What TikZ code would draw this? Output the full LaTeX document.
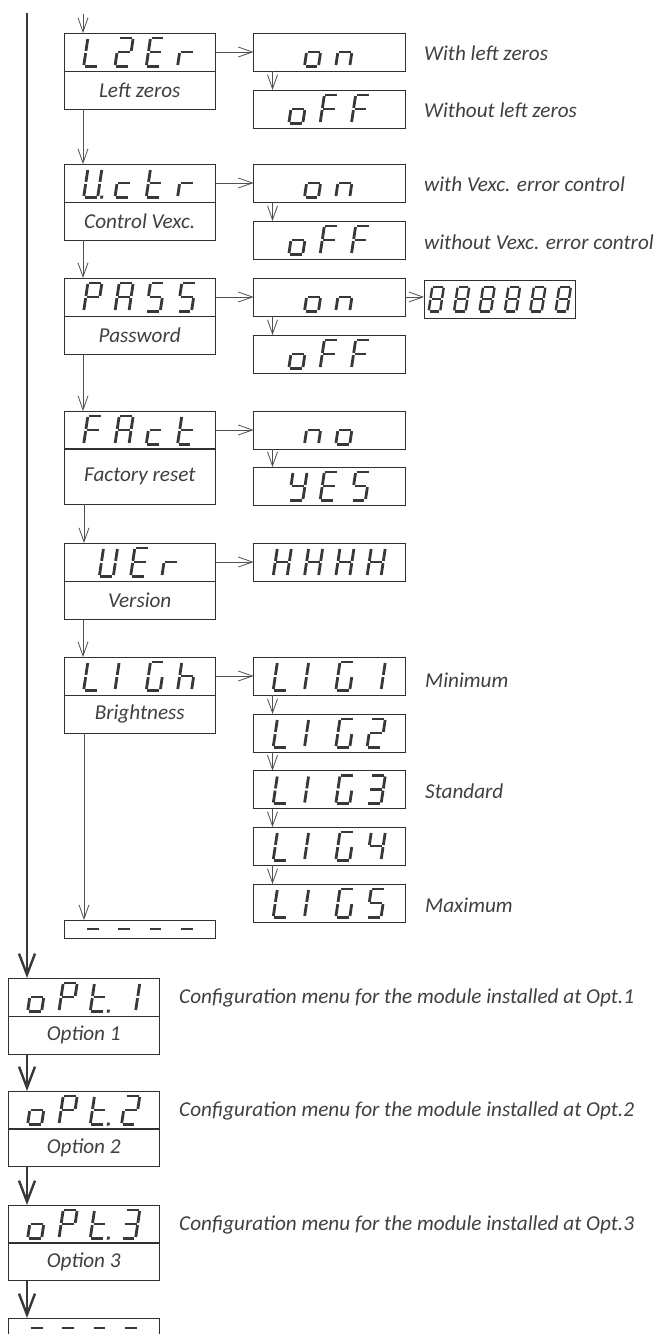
\documentclass[tikz,border=0pt]{standalone}
\usepackage{fontspec}
\setmainfont{Carlito}
\usetikzlibrary{arrows.meta}
\definecolor{segc}{HTML}{383838}
\definecolor{txtc}{HTML}{404040}
\definecolor{linec}{HTML}{303030}
\definecolor{arrc}{HTML}{505050}
\makeatletter
\def\segW{14}\def\segH{28.2}\def\segG{1.1}\def\segS{0.15}\def\segP{31.3}\def\segT{2.8}
\@namedef{seg@a}{\draw[segline] (\segG,\segH) -- (\segW-\segG,\segH);}
\@namedef{seg@b}{\draw[segline] (\segW,\segH-\segG) -- (\segW,\segH/2+\segG);}
\@namedef{seg@c}{\draw[segline] (\segW,\segH/2-\segG) -- (\segW,\segG);}
\@namedef{seg@d}{\draw[segline] (\segG,0) -- (\segW-\segG,0);}
\@namedef{seg@e}{\draw[segline] (0,\segG) -- (0,\segH/2-\segG);}
\@namedef{seg@f}{\draw[segline] (0,\segH/2+\segG) -- (0,\segH-\segG);}
\@namedef{seg@g}{\draw[segline] (\segG,\segH/2) -- (\segW-\segG,\segH/2);}
\@namedef{ch@L}{d,e,f}
\@namedef{ch@2}{a,b,g,e,d}
\@namedef{ch@E}{a,f,g,e,d}
\@namedef{ch@r}{e,g}
\@namedef{ch@o}{c,d,e,g}
\@namedef{ch@n}{c,e,g}
\@namedef{ch@F}{a,f,g,e}
\@namedef{ch@U}{b,c,d,e,f}
\@namedef{ch@c}{d,e,g}
\@namedef{ch@t}{d,e,f,g}
\@namedef{ch@P}{a,b,e,f,g}
\@namedef{ch@A}{a,b,c,e,f,g}
\@namedef{ch@5}{a,c,d,f,g}
\@namedef{ch@8}{a,b,c,d,e,f,g}
\@namedef{ch@Y}{b,c,d,f,g}
\@namedef{ch@H}{b,c,e,f,g}
\@namedef{ch@I}{e,f}
\@namedef{ch@G}{a,c,d,e,f}
\@namedef{ch@h}{c,e,f,g}
\@namedef{ch@1}{b,c}
\@namedef{ch@3}{a,b,c,d,g}
\@namedef{ch@4}{b,c,f,g}
\@namedef{ch@-}{g}
\newcommand\dispstr[2]{%
  \gdef\ds@n{0}%
  \foreach \chr/\dpt in {#2}{\xdef\ds@n{\the\numexpr\ds@n+1\relax}}%
  \pgfmathsetmacro\ds@start{-((\ds@n-1)*\segP+\segW+\segS*\segH)/2}%
  \begin{scope}[shift={(#1.center)}]
  \foreach \chr/\dpt [count=\i from 0] in {#2}{%
    \begin{scope}[shift={(\ds@start+\i*\segP,-\segH/2)},xslant=\segS]
      \edef\ds@list{\csname ch@\chr\endcsname}%
      \foreach \s in \ds@list {\csname seg@\s\endcsname}%
      \ifnum\dpt=1 \fill[segc] (\segW+2.6,-\segT/2) rectangle ++(\segT,\segT);\fi
    \end{scope}%
  }%
  \end{scope}%
}
\makeatother
\tikzset{
  segline/.style={draw=segc, line width=\segT pt},
  box/.style={draw=linec, line width=0.9pt, minimum width=151.5pt, minimum height=38pt,
    inner sep=0pt, outer sep=0pt, anchor=north west},
  lbl/.style={box, text=txtc, font=\fontsize{21.2}{24}\selectfont\itshape},
  desc/.style={anchor=west, inner sep=0pt, text=txtc, font=\fontsize{21.2}{24}\selectfont\itshape},
  arr/.style={draw=arrc, line width=0.8pt, -{Straight Barb[length=14pt,width=10pt]}},
  bigarr/.style={draw=segc, line width=2.8pt, -{Straight Barb[length=21pt,width=16pt,line width=2.4pt]}},
}
\begin{document}
\begin{tikzpicture}[x=1pt,y=1pt]
\useasboundingbox (0,0) rectangle (658,-1334);
\fill[white] (0,0) rectangle (658,-1334);
% main column
\node[box] (l2er) at (64,-33) {};
\node[lbl] (l2erL) at (64,-71) {Left zeros};
\node[box] (uctr) at (64,-164) {};
\node[lbl] (uctrL) at (64,-202) {Control Vexc.};
\node[box] (pass) at (64,-278) {};
\node[lbl] (passL) at (64,-316) {Password};
\node[box] (fact) at (64,-411) {};
\node[lbl, minimum height=56pt] (factL) at (64,-448) {Factory reset};
\node[box] (ver) at (64,-543) {};
\node[lbl] (verL) at (64,-581) {Version};
\node[box] (ligh) at (64,-657) {};
\node[lbl] (lighL) at (64,-695) {Brightness};
\node[box, minimum height=18pt] (dash) at (64,-920) {};
% option column
\node[box] (on1) at (253.5,-33) {};
\node[box] (off1) at (253.5,-90) {};
\node[box] (on2) at (253.5,-164) {};
\node[box] (off2) at (253.5,-221) {};
\node[box] (on3) at (253.5,-278) {};
\node[box] (off3) at (253.5,-335) {};
\node[box] (pw) at (424,-280) {};
\node[box] (no) at (253.5,-411) {};
\node[box] (yes) at (253.5,-467) {};
\node[box] (hhhh) at (253.5,-543) {};
\node[box] (lig1) at (253.5,-657) {};
\node[box] (lig2) at (253.5,-714) {};
\node[box] (lig3) at (253.5,-770.5) {};
\node[box] (lig4) at (253.5,-827) {};
\node[box] (lig5) at (253.5,-884) {};
% bottom column
\node[box] (opt1) at (8,-978) {};
\node[lbl] (opt1L) at (8,-1016) {Option 1};
\node[box] (opt2) at (8,-1091) {};
\node[lbl] (opt2L) at (8,-1128.5) {Option 2};
\node[box] (opt3) at (8,-1205) {};
\node[lbl] (opt3L) at (8,-1242.5) {Option 3};
\node[box] (endb) at (8,-1318) {};
\coordinate (endc) at ([yshift=9pt]endb.center);
% descriptions
\node[desc] (d1) at (424,-53) {With left zeros};
\node[desc] (d2) at (424,-110) {Without left zeros};
\node[desc] (d3) at (424,-184) {with Vexc. error control};
\node[desc] (d4) at (424,-242) {without Vexc. error control};
\node[desc] (d5) at (425,-680) {Minimum};
\node[desc] (d6) at (425,-791) {Standard};
\node[desc] (d7) at (425,-905) {Maximum};
\node[desc] (c1) at (179,-998) {Configuration menu for the module installed at Opt.1};
\node[desc] (c2) at (179,-1111) {Configuration menu for the module installed at Opt.2};
\node[desc] (c3) at (179,-1225) {Configuration menu for the module installed at Opt.3};
% displays
\dispstr{l2er}{L/0,2/0,E/0,r/0}
\dispstr{uctr}{U/1,c/0,t/0,r/0}
\dispstr{pass}{P/0,A/0,5/0,5/0}
\dispstr{fact}{F/0,A/0,c/0,t/0}
\dispstr{ver}{U/0,E/0,r/0}
\dispstr{ligh}{L/0,I/0,G/0,h/0}
\dispstr{dash}{-/0,-/0,-/0,-/0}
\dispstr{on1}{o/0,n/0}
\dispstr{off1}{o/0,F/0,F/0}
\dispstr{on2}{o/0,n/0}
\dispstr{off2}{o/0,F/0,F/0}
\dispstr{on3}{o/0,n/0}
\dispstr{off3}{o/0,F/0,F/0}
\dispstr{no}{n/0,o/0}
\dispstr{yes}{Y/0,E/0,5/0}
\dispstr{hhhh}{H/0,H/0,H/0,H/0}
\dispstr{lig1}{L/0,I/0,G/0,1/0}
\dispstr{lig2}{L/0,I/0,G/0,2/0}
\dispstr{lig3}{L/0,I/0,G/0,3/0}
\dispstr{lig4}{L/0,I/0,G/0,4/0}
\dispstr{lig5}{L/0,I/0,G/0,5/0}
\dispstr{opt1}{o/0,P/0,t/1,1/0}
\dispstr{opt2}{o/0,P/0,t/1,2/0}
\dispstr{opt3}{o/0,P/0,t/1,3/0}
\dispstr{endc}{-/0,-/0,-/0,-/0}
{\def\segW{11.5}\def\segH{24.6}\def\segT{2.4}\def\segP{25.4}\def\segG{1.0}
 \dispstr{pw}{8/0,8/0,8/0,8/0,8/0,8/0}}
% connectors
\coordinate (entry) at (83,-14);
\draw[arr] (entry) -- ([xshift=19pt]l2er.north west);
\draw[arr] ([xshift=19pt]l2erL.south west) -- ([xshift=19pt]uctr.north west);
\draw[arr] ([xshift=19pt]uctrL.south west) -- ([xshift=19pt]pass.north west);
\draw[arr] ([xshift=19pt]passL.south west) -- ([xshift=19pt]fact.north west);
\draw[arr] ([xshift=20pt]factL.south west) -- ([xshift=20pt]ver.north west);
\draw[arr] ([xshift=19pt]verL.south west) -- ([xshift=19pt]ligh.north west);
\draw[arr] ([xshift=20pt]lighL.south west) -- ([xshift=20pt]dash.north west);
\draw[arr] (l2er.east) -- (on1.west);
\draw[arr] (uctr.east) -- (on2.west);
\draw[arr] (pass.east) -- (on3.west);
\draw[arr] (on3.east) -- (on3.east -| pw.west);
\draw[arr] (fact.east) -- (no.west);
\draw[arr] (ver.east) -- (hhhh.west);
\draw[arr] (ligh.east) -- (lig1.west);
\foreach \a/\b in {on1/off1,on2/off2,on3/off3,no/yes,lig1/lig2,lig2/lig3,lig3/lig4,lig4/lig5}
  \draw[arr] ([xshift=19pt]\a.south west) -- ([xshift=19pt]\b.north west);
\coordinate (mainTop) at (27,-13);
\draw[bigarr] (mainTop) -- (mainTop |- opt1.north);
\draw[bigarr] ([xshift=19pt]opt1L.south west) -- ([xshift=19pt]opt2.north west);
\draw[bigarr] ([xshift=19pt]opt2L.south west) -- ([xshift=19pt]opt3.north west);
\draw[bigarr] ([xshift=19pt]opt3L.south west) -- ([xshift=19pt]endb.north west);
\end{tikzpicture}
\end{document}
